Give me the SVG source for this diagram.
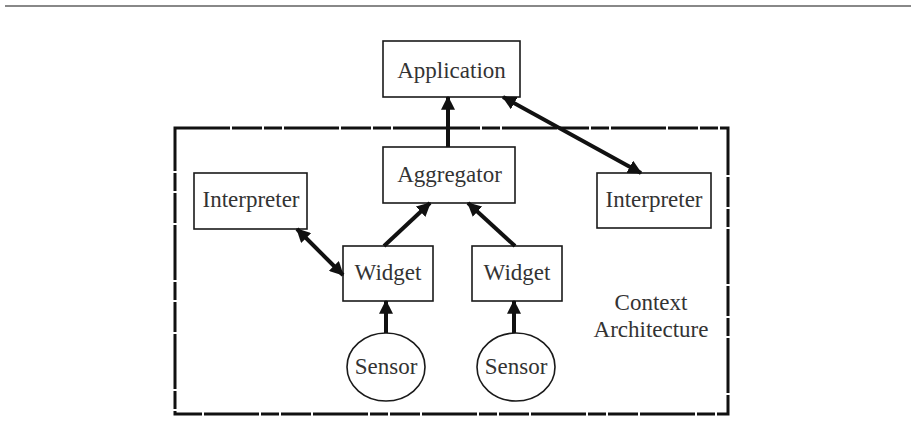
<svg xmlns="http://www.w3.org/2000/svg" width="917" height="436" viewBox="0 0 917 436">
<style>
.box{fill:#fff;stroke:#1a1a1a;stroke-width:1.6}
.t{font-family:"Liberation Serif","Times New Roman",serif;font-size:23px;fill:#333;text-anchor:middle}
.c{stroke:#111;stroke-width:4;fill:none}
</style>
<defs>
<marker id="ah" viewBox="0 0 12 12" refX="11" refY="6" markerWidth="14" markerHeight="14" markerUnits="userSpaceOnUse" orient="auto-start-reverse">
<path d="M0,0 L12,6 L0,12 Z" fill="#111"/>
</marker>
</defs>
<rect width="917" height="436" fill="#fff"/>
<line x1="5" y1="6" x2="911" y2="6" stroke="#888" stroke-width="2"/>
<g id="boundary">
<rect x="175" y="128" width="553" height="286" fill="none" stroke="#111" stroke-width="3" stroke-dasharray="55 2 30 2 18 2"/>
<text class="t" x="651" y="310">Context</text>
<text class="t" x="651" y="337">Architecture</text>
</g>
<g id="application"><rect class="box" x="383" y="41" width="137" height="56"/><text class="t" x="451.5" y="78">Application</text></g>
<g id="aggregator"><rect class="box" x="383" y="147" width="132" height="56"/><text class="t" x="449.5" y="182">Aggregator</text></g>
<g id="interpreter-left"><rect class="box" x="194" y="173" width="113" height="56"/><text class="t" x="251" y="207">Interpreter</text></g>
<g id="interpreter-right"><rect class="box" x="597" y="173" width="114" height="55"/><text class="t" x="654" y="207">Interpreter</text></g>
<g id="widget-left"><rect class="box" x="343" y="246" width="90" height="55"/><text class="t" x="388" y="280">Widget</text></g>
<g id="widget-right"><rect class="box" x="472" y="246" width="90" height="55"/><text class="t" x="517" y="280">Widget</text></g>
<g id="sensor-left"><ellipse class="box" cx="386" cy="367" rx="39" ry="34"/><text class="t" x="386" y="374">Sensor</text></g>
<g id="sensor-right"><ellipse class="box" cx="516" cy="367" rx="39" ry="34"/><text class="t" x="516" y="374">Sensor</text></g>
<g id="connectors">
<line class="c" x1="448" y1="147" x2="448" y2="97" marker-end="url(#ah)"/>
<line class="c" x1="503" y1="97" x2="641" y2="173" marker-start="url(#ah)" marker-end="url(#ah)"/>
<line class="c" x1="297" y1="229" x2="343" y2="275" marker-start="url(#ah)" marker-end="url(#ah)"/>
<line class="c" x1="384" y1="246" x2="430" y2="203" marker-end="url(#ah)"/>
<line class="c" x1="515" y1="246" x2="468" y2="203" marker-end="url(#ah)"/>
<line class="c" x1="386" y1="333" x2="386" y2="301" marker-end="url(#ah)"/>
<line class="c" x1="514" y1="333" x2="514" y2="301" marker-end="url(#ah)"/>
</g>
</svg>
